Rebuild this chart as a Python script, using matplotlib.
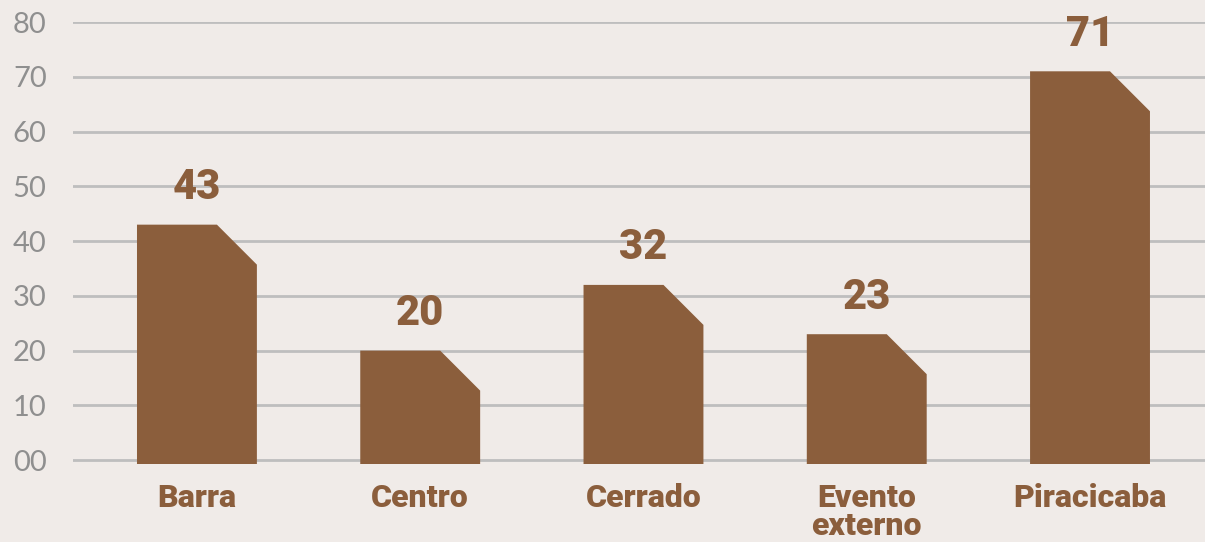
import matplotlib
matplotlib.use("Agg")
import matplotlib.pyplot as plt
from matplotlib.patches import Polygon

# Data
categories = ["Barra", "Centro", "Cerrado", "Evento\nexterno", "Piracicaba"]
values = [43, 20, 32, 23, 71]
yticks = [0, 10, 20, 30, 40, 50, 60, 70, 80]
ytick_labels = ["00", "10", "20", "30", "40", "50", "60", "70", "80"]

bg = "#F0EBE8"
brown = "#8B5E3C"
grid_col = "#BEBEBE"
tick_col = "#8F8F8F"

plt.rcParams["font.family"] = ["Lato", "DejaVu Sans"]
heavy = ["Roboto", "DejaVu Sans"]

fig = plt.figure(figsize=(12.05, 5.42), dpi=100, facecolor=bg)
ax = fig.add_axes([0.0606, 0.1439, 0.9394, 0.8155])
ax.set_facecolor(bg)

bar_w = 0.537
cut_x = 0.179   # chamfer width (data units along x)
cut_y = 7.3     # chamfer height (data units along y)
base = -0.7

for i, v in enumerate(values):
    left = i - bar_w / 2
    right = i + bar_w / 2
    pts = [(left, base), (left, v), (right - cut_x, v),
           (right, v - cut_y), (right, base)]
    ax.add_patch(Polygon(pts, closed=True, facecolor=brown, edgecolor="none", zorder=3))
    ax.text(i, v + 3, str(v), ha="center", va="bottom", color=brown,
            fontsize=30, fontweight="black", family=heavy, zorder=4)

ax.set_xlim(-0.555, 4.515)
ax.set_ylim(base, 80)
ax.set_yticks(yticks)
ax.set_yticklabels(ytick_labels, color=tick_col, fontsize=21)
ax.set_xticks(range(len(categories)))
ax.set_xticklabels(categories, color=brown, fontsize=23, fontweight="black",
                   family=heavy, linespacing=0.9)
ax.tick_params(axis="y", length=0, pad=19)
ax.tick_params(axis="x", length=0, pad=14)

ax.grid(axis="y", color=grid_col, linewidth=2, zorder=0)
for s in ax.spines.values():
    s.set_visible(False)

fig.savefig("out.png", dpi=100, facecolor=bg)
